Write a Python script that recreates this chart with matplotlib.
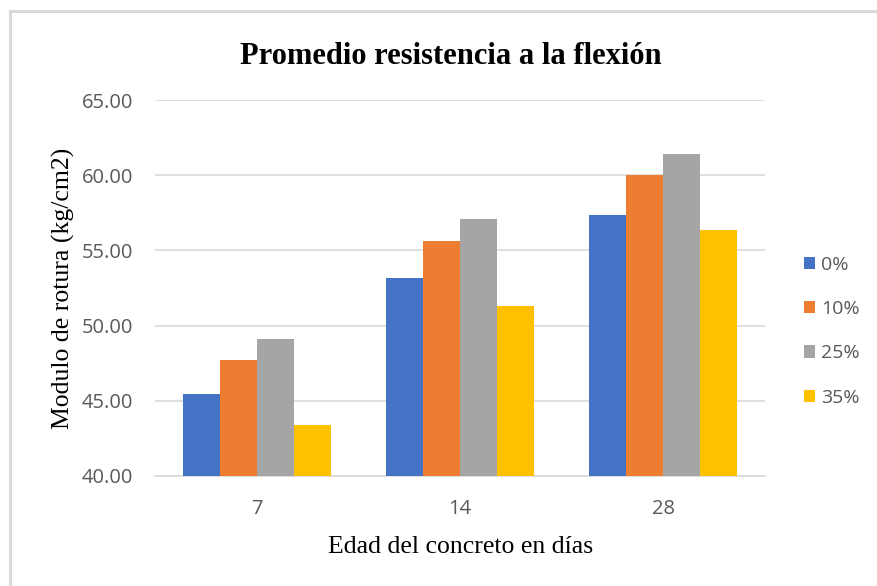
import matplotlib
matplotlib.use("Agg")
import matplotlib.pyplot as plt
from matplotlib.lines import Line2D
import numpy as np

# Data
edades = ["7", "14", "28"]
series = ["0%", "10%", "25%", "35%"]
val_0 = [45.45, 53.15, 57.35]
val_10 = [47.70, 55.60, 60.05]
val_25 = [49.10, 57.10, 61.40]
val_35 = [43.35, 51.30, 56.35]
colores = ["#4472C4", "#ED7D31", "#A5A5A5", "#FFC000"]
y_ticks = [40, 45, 50, 55, 60, 65]

fig = plt.figure(figsize=(8.78, 5.86), dpi=100)
ax = fig.add_axes([0.177, 0.188, 0.694, 0.641])

# chart frame: only left and top edges visible
fig.lines.append(Line2D([0.0115, 0.0115], [0.0, 0.981], transform=fig.transFigure,
                        color="#d9d9d9", linewidth=2.2))
fig.lines.append(Line2D([0.0115, 1.0], [0.981, 0.981], transform=fig.transFigure,
                        color="#d9d9d9", linewidth=2.2))

x = np.arange(len(edades))
w = 0.182
for i, (vals, name) in enumerate(zip([val_0, val_10, val_25, val_35], series)):
    ax.bar(x + (i - 1.5) * w, np.array(vals) - 40, bottom=40, width=w,
           color=colores[i], label=name, zorder=3)

ax.set_xlim(-0.5, 2.5)
ax.set_ylim(40, 65)
ax.set_yticks(y_ticks)
ax.set_yticklabels([f"{t:.2f}" for t in y_ticks])
ax.set_xticks(x)
ax.set_xticklabels(edades)
ax.grid(axis="y", color="#d9d9d9", linewidth=1.2, zorder=0)
for s in ["top", "right", "left"]:
    ax.spines[s].set_visible(False)
ax.spines["bottom"].set_color("#d9d9d9")
ax.spines["bottom"].set_linewidth(1.2)
ax.tick_params(axis="y", length=0, labelsize=14.5, labelcolor="#595959", pad=16)
ax.tick_params(axis="x", length=0, labelsize=14.5, labelcolor="#595959", pad=17)
for lab in ax.get_xticklabels() + ax.get_yticklabels():
    lab.set_family("Open Sans")

ax.set_xlabel("Edad del concreto en días", family="Liberation Serif",
              fontsize=18.5, labelpad=12)
ax.set_ylabel("Modulo de rotura (kg/cm2)", family="Liberation Serif",
              fontsize=18.5, labelpad=5)
fig.text(0.513, 0.903, "Promedio resistencia a la flexión", ha="center", va="center",
         family="Liberation Serif", fontweight="bold", fontsize=22)

leg = ax.legend(loc="center left", bbox_to_anchor=(1.035, 0.385), frameon=False,
                handlelength=0.6, handleheight=0.6, handletextpad=0.3,
                labelspacing=1.35, prop={"family": "Open Sans", "size": 14})
for t in leg.get_texts():
    t.set_color("#595959")

fig.savefig("out.png", dpi=100)
